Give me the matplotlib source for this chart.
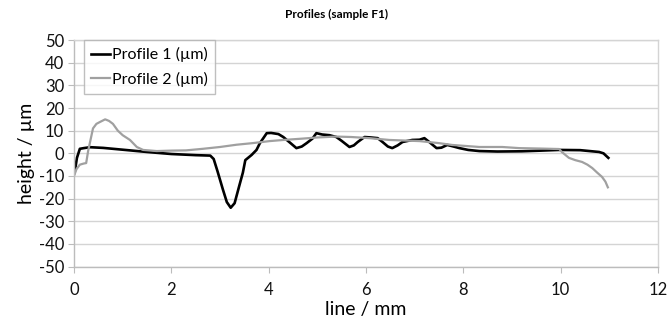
import matplotlib
matplotlib.use("Agg")
import matplotlib.pyplot as plt

plt.rcParams['font.family'] = ['Lato', 'DejaVu Sans']
plt.rcParams['axes.unicode_minus'] = False

title = "Profiles (sample F1)"
xlabel = "line / mm"
ylabel = "height / µm"
series_names = ["Profile 1 (µm)", "Profile 2 (µm)"]

p1_x = [0.0, 0.02, 0.06, 0.12, 0.2, 0.33, 0.6, 1.0, 1.5, 2.0, 2.5, 2.8, 2.87, 2.95, 3.06,
        3.14, 3.22, 3.3, 3.4, 3.47, 3.52, 3.65, 3.75, 3.82, 3.9, 3.96, 4.05, 4.2, 4.3, 4.45,
        4.57, 4.68, 4.78, 4.9, 4.98, 5.1, 5.25, 5.39, 5.5, 5.66, 5.75, 5.83, 5.97, 6.1, 6.24,
        6.34, 6.45, 6.54, 6.65, 6.75, 6.95, 7.1, 7.2, 7.3, 7.45, 7.55, 7.67, 7.8, 7.92, 8.1,
        8.33, 8.7, 9.2, 9.6, 9.97, 10.4, 10.79, 10.88, 10.93, 10.98]
p1_y = [-9, -7.5, -2, 2.0, 2.3, 2.7, 2.4, 1.6, 0.6, -0.3, -0.8, -1.0, -2.5, -8, -16,
        -21.5, -24, -22, -14, -8.5, -3, -0.7, 1.5, 4.5, 7, 8.9, 9.0, 8.5, 7.2, 4.5,
        2.3, 3.0, 4.5, 6.5, 8.9, 8.3, 8.0, 7.2, 5.5, 2.8, 3.5, 5.0, 7.2, 7.0, 6.7,
        5.0, 3.0, 2.3, 3.5, 5.0, 5.9, 6.0, 6.7, 5.0, 2.3, 2.5, 3.7, 3.0, 2.3, 1.5,
        1.0, 0.8, 0.9, 1.2, 1.5, 1.4, 0.6, 0.0, -1.0, -2.0]

p2_x = [0.0, 0.05, 0.12, 0.2, 0.25, 0.29, 0.34, 0.39, 0.46, 0.53, 0.64, 0.72, 0.8, 0.9, 1.0,
        1.15, 1.29, 1.42, 1.7, 2.0, 2.3, 2.65, 3.0, 3.34, 3.67, 4.02, 4.3, 4.7, 5.0, 5.39,
        5.7, 6.07, 6.48, 7.1, 7.5, 7.77, 8.33, 8.8, 9.15, 9.6, 9.97, 10.03, 10.17, 10.3,
        10.44, 10.55, 10.65, 10.75, 10.85, 10.92, 10.97]
p2_y = [-10, -7, -5, -4.5, -4.3, 1, 6, 11, 13, 13.8, 15, 14.3, 13, 10, 8,
        5.9, 2.8, 1.5, 1.0, 1.2, 1.3, 2.0, 2.8, 3.8, 4.5, 5.4, 5.9, 6.5, 7.0, 7.4,
        7.2, 6.7, 5.9, 5.4, 4.5, 3.7, 2.8, 2.8, 2.3, 2.1, 1.9, 0.5, -2, -3,
        -3.8, -5, -6.5, -8.5, -10.4, -12.5, -15]

xticks = [0, 2, 4, 6, 8, 10, 12]
yticks = [50, 40, 30, 20, 10, 0, -10, -20, -30, -40, -50]

fig = plt.figure(figsize=(6.68, 3.24), dpi=100)
ax = fig.add_axes([0.1108, 0.177, 0.8742, 0.6995])

grid_c = '#d4d4d4'
ax.set_xlim(0, 12)
ax.set_ylim(-50, 50)
ax.set_xticks(xticks)
ax.set_yticks(yticks)
ax.yaxis.grid(True, color=grid_c, linewidth=1.0)
ax.set_axisbelow(True)
for s in ['top', 'right']:
    ax.spines[s].set_color(grid_c)
    ax.spines[s].set_linewidth(1.0)
for s in ['left', 'bottom']:
    ax.spines[s].set_color('#bcbcbc')
    ax.spines[s].set_linewidth(1.0)
ax.tick_params(axis='both', direction='out', length=4, color='#bcbcbc',
               labelsize=12, labelcolor='#111111')
ax.tick_params(axis='x', pad=7)
ax.tick_params(axis='y', pad=3)

ax.plot(p1_x, p1_y, color='#000000', linewidth=1.9, label=series_names[0])
ax.plot(p2_x, p2_y, color='#a0a0a0', linewidth=1.6, label=series_names[1])

ax.set_xlabel(xlabel, fontsize=14, labelpad=2)
ax.set_ylabel(ylabel, fontsize=14, labelpad=3)
fig.text(0.504, 0.955, title, ha='center', va='center', fontsize=8.5, fontweight='bold')

leg = ax.legend(loc='upper left', bbox_to_anchor=(0.017, 1.0), fontsize=11.5,
                frameon=True, fancybox=False, edgecolor='#b0b0b0', handlelength=1.2,
                handletextpad=0.1, borderpad=0.45, labelspacing=0.6, borderaxespad=0)
leg.get_frame().set_linewidth(1.0)

fig.savefig('out.png', dpi=100)
